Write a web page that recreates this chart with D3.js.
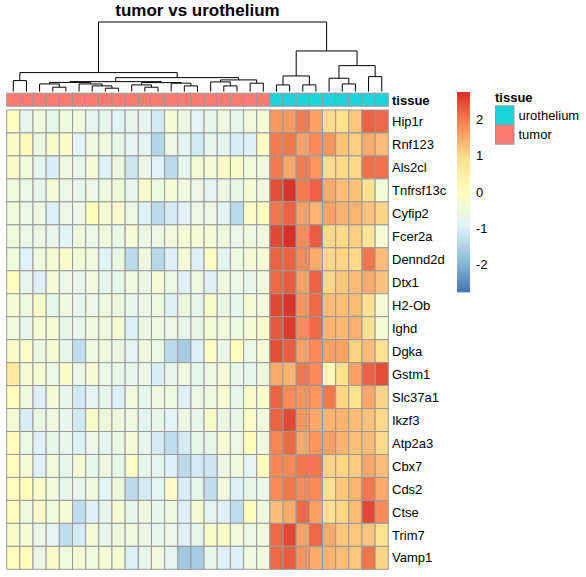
<!DOCTYPE html>
<html><head><meta charset="utf-8">
<script src="https://cdn.jsdelivr.net/npm/d3@7"></script>
<style>body{margin:0;background:#fff}svg{display:block}</style>
</head><body>
<svg id="c" width="586" height="577"></svg>
<script>
const title = "tumor vs urothelium";
const genes = ["Hip1r","Rnf123","Als2cl","Tnfrsf13c","Cyfip2","Fcer2a","Dennd2d","Dtx1","H2-Ob","Ighd","Dgka","Gstm1","Slc37a1","Ikzf3","Atp2a3","Cbx7","Cds2","Ctse","Trim7","Vamp1"];
const samples = d3.range(1, 30).map(i => "S" + i);
const tissue = d3.range(29).map(i => i < 20 ? "tumor" : "urothelium");
const tissueLevels = ["urothelium", "tumor"];
const tissueColors = ["#1ED3D9", "#FA7B72"];
const legendTicks = [2, 1, 0, -1, -2];
const colorDomain = [-2.75, 2.75];
const palette = ["#4575B4","#91BFDB","#E0F3F8","#FFFFBF","#FEE090","#FC8D59","#D73027"];

const Hip1r     = [0.0,-0.75,-0.45,-0.7,-0.5,-0.45,-0.8,-0.7,-0.85,-0.75,-0.75,-1.1,-0.3,-0.55,-0.8,-0.7,-0.5,-0.7,-0.45,-0.3,1.7,1.7,2.0,1.6,0.95,0.9,1.2,2.25,2.2];
const Rnf123    = [-0.2,0.15,-0.55,-0.2,-0.15,-0.9,-0.5,-0.5,-0.7,-0.8,-0.85,-1.45,-0.6,-0.8,-1.1,-0.75,-0.8,-1.0,-0.95,-0.05,2.0,2.05,1.6,1.85,1.75,1.25,1.1,1.5,1.3];
const Als2cl    = [-0.2,-0.45,-0.8,-1.0,-0.5,-0.7,-0.35,-0.95,-0.5,-1.15,-0.6,-0.9,-1.35,-0.75,-0.35,-0.3,-0.15,-0.2,-0.45,-0.45,2.0,1.55,2.0,1.75,0.95,1.0,1.0,2.1,2.1];
const Tnfrsf13c = [-0.45,-0.6,-0.7,-0.3,-0.6,-0.7,-0.6,-0.5,-0.45,-0.7,-0.2,-0.5,-0.3,-0.45,-0.6,-0.8,-0.6,-0.65,-0.3,-0.5,2.45,2.7,2.0,2.25,1.5,1.3,1.25,0.9,-0.4];
const Cyfip2    = [-0.45,-0.6,-0.5,-0.95,-0.6,-0.6,0.05,-0.35,-0.2,-0.6,-0.95,-1.35,-1.05,-0.9,-0.6,-0.6,-0.8,-1.35,-0.15,0.05,2.05,2.25,1.6,1.4,1.6,1.4,1.4,1.25,1.05];
const Fcer2a    = [-0.45,-0.6,-0.6,-0.75,-0.85,-0.5,-0.6,-0.45,-0.6,-0.35,-0.6,-0.6,-0.45,-0.35,-0.35,-0.35,-0.5,-0.6,-0.5,-0.5,2.5,2.75,1.85,2.3,1.0,1.0,1.1,0.8,-0.35];
const Dennd2d   = [-0.45,-0.9,-0.45,-0.35,-0.2,-0.4,-0.45,-0.9,-0.55,-1.35,-0.5,-1.4,-0.95,-0.35,-0.95,-0.05,-0.8,-0.5,-0.35,-0.3,2.25,2.25,1.85,1.5,1.0,1.05,1.0,2.05,1.3];
const Dtx1      = [0.0,-0.7,-0.95,-0.3,-0.6,-0.7,-0.45,-0.7,-0.7,-0.5,-0.6,-0.35,-0.6,-0.95,-0.5,-0.95,-0.5,-0.6,-0.7,-0.45,2.2,2.3,1.6,2.25,1.0,1.2,1.3,1.5,1.25];
const H2Ob      = [-0.3,-0.5,-0.15,-0.7,-0.5,-0.7,-0.6,-0.5,-0.5,-0.7,-0.6,-0.5,-0.95,-0.5,-0.7,-0.2,-0.6,-0.7,-0.3,-0.45,2.5,2.7,1.75,2.2,1.3,1.3,1.3,0.9,-0.35];
const Ighd      = [-0.45,-0.7,-0.3,-0.35,-0.7,-0.7,-0.5,-0.5,-0.3,-0.95,-0.6,-0.5,-0.6,-0.7,-0.65,-0.3,-0.45,-0.5,-0.3,-0.2,2.35,2.65,1.85,2.2,1.4,1.35,1.45,0.9,-0.3];
const Dgka      = [-0.2,-0.15,-0.6,-0.35,-0.7,-1.3,-0.5,-0.5,-0.6,-0.8,-0.5,-0.6,-1.35,-1.6,-0.95,-0.05,-0.6,0.0,-0.6,-0.35,2.45,2.3,1.6,1.85,1.6,1.6,1.05,1.3,0.9];
const Gstm1     = [0.6,-0.35,-0.3,-0.6,-0.15,-0.6,-0.35,-0.6,-0.7,-0.7,-0.6,-1.0,-0.7,-0.45,-0.7,-0.5,-0.35,-0.7,-0.75,-0.5,1.5,1.4,2.05,1.85,0.05,0.9,1.6,2.25,2.45];
const Slc37a1   = [0.05,-0.5,-0.95,-0.3,-0.7,-1.1,-0.8,-0.7,-0.95,-0.45,-0.7,-0.5,-0.5,-0.95,-0.6,-0.5,-0.3,-0.7,-0.2,-0.15,2.25,1.85,1.75,1.75,2.05,1.05,0.9,1.55,1.05];
const Ikzf3     = [-0.35,-1.0,-0.6,-0.5,-0.7,-1.1,-0.2,-0.5,-0.5,-0.5,-0.8,-0.7,-0.85,-0.6,-0.7,-0.2,-0.6,-0.65,-0.15,-0.45,2.25,2.5,1.75,1.55,1.4,1.4,1.3,1.25,1.0];
const Atp2a3    = [0.05,-0.6,-0.95,-0.7,-0.7,-0.95,-0.6,-0.8,-0.6,-0.3,-0.7,-1.05,-1.3,-1.05,-0.7,-0.7,-0.3,-0.6,0.05,-0.45,1.9,2.2,1.55,1.75,1.6,1.4,1.25,1.3,1.0];
const Cbx7      = [0.05,-0.35,-0.95,-0.45,-0.7,-0.3,-0.7,-0.5,-0.7,-0.15,-0.7,-0.8,-0.95,-1.35,-1.05,-1.15,-0.6,-0.5,-0.8,0.05,1.9,1.9,2.05,2.05,1.05,1.05,1.15,1.55,1.3];
const Cds2      = [0.05,0.05,-0.2,-0.45,-0.7,-0.7,-0.5,-0.85,-0.5,-1.35,-1.05,-0.8,-0.15,-1.0,-0.7,-1.3,-0.45,-0.95,-0.7,-0.6,1.85,2.05,1.85,1.85,0.9,1.2,1.4,2.05,1.5];
const Ctse      = [0.05,-0.5,-0.2,-0.45,-0.3,-1.3,-0.95,-0.7,-0.3,-0.7,-0.5,-0.7,-0.5,-0.95,-0.3,-0.8,-0.95,-1.3,0.05,-0.5,1.3,1.5,2.2,1.6,0.9,1.05,1.3,2.5,1.85];
const Trim7     = [-0.2,-0.3,-0.6,-0.8,-1.3,-1.05,-0.35,-0.7,-0.5,-0.5,-0.6,-0.7,-0.6,-0.95,-0.7,-0.2,-0.2,-0.45,-0.6,-0.45,2.2,2.5,1.6,2.2,1.5,1.2,1.2,1.2,0.9];
const Vamp1     = [0.05,0.05,-0.6,-0.2,-0.45,-0.35,-0.45,-0.3,-0.3,-0.95,-0.7,-0.45,-0.8,-1.65,-1.6,-0.7,-0.95,-0.95,-0.5,-0.45,2.2,2.3,1.75,1.5,1.4,1.3,1.2,2.05,1.05];
const matrix = [Hip1r,Rnf123,Als2cl,Tnfrsf13c,Cyfip2,Fcer2a,Dennd2d,Dtx1,H2Ob,Ighd,Dgka,Gstm1,Slc37a1,Ikzf3,Atp2a3,Cbx7,Cds2,Ctse,Trim7,Vamp1];

// column dendrogram: [height, left, right]; leaves are column indices
const colTree = [10,
  [2.73, [1.58, 0, 1],
         [2.01, [1.43, [1.32, [1.10, 2, [0.63, 3, 4]], [1.10, 5, [0.82, 6, [0.49, 7, 8]]]],
                       [1.29, [0.96, 9, [0.63, 10, 11]], [1.21, 12, [0.82, 13, 14]]]],
                [1.68, [1.39, 15, [0.82, 16, 17]], [1.21, 18, 19]]]],
  [5.84, [2.25, [0.96, 20, 21], [0.96, 22, 23]],
         [3.73, [1.92, 24, [1.10, 25, 26]], [2.15, 27, 28]]]
];

const font = "'Liberation Sans', Arial, Helvetica, sans-serif";
const svg = d3.select("#c").style("font-family", font);
svg.append("rect").attr("width", 586).attr("height", 577).attr("fill", "#fff");

const x = d3.scaleBand().domain(d3.range(samples.length)).range([6.7, 388.3]).paddingInner(0).paddingOuter(0);
const y = d3.scaleBand().domain(d3.range(genes.length)).range([110, 569.3]);
const color = d3.scaleLinear()
  .domain(d3.range(palette.length).map(i => colorDomain[0] + i * (colorDomain[1] - colorDomain[0]) / (palette.length - 1)))
  .range(palette).interpolate(d3.interpolateRgb).clamp(true);
const tissueScale = d3.scaleOrdinal().domain(tissueLevels).range(tissueColors);
const border = "#999999";

// title
svg.append("text").attr("x", (6.7 + 388.3) / 2).attr("y", 16).attr("text-anchor", "middle")
  .attr("font-size", 17).attr("font-weight", "bold").text(title);

// dendrogram
const hY = d3.scaleLinear().domain([0, colTree[0]]).range([91.6, 22]);
const dg = svg.append("g").attr("stroke", "#000").attr("stroke-width", 1).attr("fill", "none");
function drawNode(node) {
  if (typeof node === "number") return { cx: x(node) + x.bandwidth() / 2, h: 0 };
  const [h, l, r] = node;
  const a = drawNode(l), b = drawNode(r);
  const yy = hY(h);
  dg.append("path").attr("d",
    `M${a.cx},${hY(a.h)}V${yy}H${b.cx}V${hY(b.h)}`);
  return { cx: (a.cx + b.cx) / 2, h };
}
drawNode(colTree);

// annotation bar
svg.append("g").selectAll("rect").data(tissue).join("rect")
  .attr("x", (d, i) => x(i)).attr("y", 93.2).attr("width", x.bandwidth()).attr("height", 13)
  .attr("fill", d => tissueScale(d)).attr("stroke", border).attr("stroke-width", 1);
svg.append("text").attr("x", 392).attr("y", 104.5).attr("font-size", 13).attr("font-weight", "bold").text("tissue");

// heatmap cells
const cells = [];
matrix.forEach((row, r) => row.forEach((v, c) => cells.push({ r, c, v })));
svg.append("g").selectAll("rect").data(cells).join("rect")
  .attr("x", d => x(d.c)).attr("y", d => y(d.r))
  .attr("width", x.bandwidth()).attr("height", y.bandwidth())
  .attr("fill", d => color(d.v)).attr("stroke", border).attr("stroke-width", 1);

// row labels
svg.append("g").selectAll("text").data(genes).join("text")
  .attr("x", 392).attr("y", (d, i) => y(i) + y.bandwidth() / 2).attr("dy", "0.36em")
  .attr("font-size", 13).text(d => d);

// color legend
const ly = d3.scaleLinear().domain(colorDomain).range([292, 92]);
const nSteps = 100;
const stepVals = d3.range(nSteps).map(i => colorDomain[0] + (i + 0.5) * (colorDomain[1] - colorDomain[0]) / nSteps);
const stepH = 200 / nSteps;
svg.append("g").selectAll("rect").data(stepVals).join("rect")
  .attr("x", 457).attr("width", 13)
  .attr("y", d => ly(d) - stepH / 2).attr("height", stepH + 0.4)
  .attr("fill", d => color(d));
svg.append("g").selectAll("text").data(legendTicks).join("text")
  .attr("x", 476).attr("y", d => ly(d)).attr("dy", "0.36em").attr("font-size", 13).text(d => d);

// tissue legend
svg.append("text").attr("x", 495).attr("y", 101.5).attr("font-size", 13).attr("font-weight", "bold").text("tissue");
const lg = svg.append("g");
tissueLevels.forEach((t, i) => {
  lg.append("rect").attr("x", 495.5).attr("y", 105.8 + i * 19.2).attr("width", 18.5).attr("height", 19.2)
    .attr("fill", tissueScale(t)).attr("stroke", border).attr("stroke-width", 1);
  lg.append("text").attr("x", 518.5).attr("y", 115.4 + i * 19.2).attr("dy", "0.36em").attr("font-size", 13).text(t);
});
</script>
</body></html>
